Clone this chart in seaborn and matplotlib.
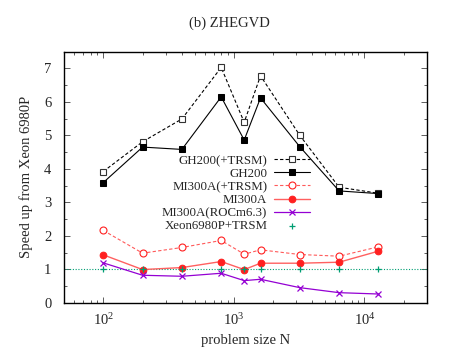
import matplotlib
matplotlib.use("Agg")
import matplotlib.pyplot as plt
import matplotlib.ticker as mticker
import pandas as pd
import seaborn as sns

# problem sizes N
sizes = [100, 200, 400, 800, 1200, 1600, 3200, 6400, 12800]

# speed-up relative to Xeon 6980P
gh200_trsm = [3.92, 4.81, 5.49, 7.03, 5.39, 6.78, 5.00, 3.45, 3.27]
gh200 = [3.59, 4.65, 4.58, 6.15, 4.86, 6.12, 4.66, 3.34, 3.26]
mi300a_trsm = [2.16, 1.48, 1.65, 1.86, 1.45, 1.58, 1.44, 1.39, 1.67]
mi300a = [1.43, 0.99, 1.05, 1.23, 0.99, 1.18, 1.18, 1.21, 1.54]
mi300a_rocm63 = [1.19, 0.82, 0.79, 0.88, 0.66, 0.70, 0.45, 0.30, 0.26]
xeon_trsm = [1.0, 1.0, 1.0, 1.0, 1.0, 1.0, 1.0, 1.0, 1.0]

series_labels = [
    "GH200(+TRSM)",
    "GH200",
    "MI300A(+TRSM)",
    "MI300A",
    "MI300A(ROCm6.3)",
    "Xeon6980P+TRSM",
]


def main() -> None:
    sns.set_style("ticks")
    plt.rcParams["font.family"] = ["Liberation Serif", "DejaVu Serif"]
    plt.rcParams["mathtext.fontset"] = "custom"
    plt.rcParams["mathtext.rm"] = "Liberation Serif"
    plt.rcParams["mathtext.it"] = "Liberation Serif:italic"
    plt.rcParams["font.size"] = 9.5

    df = pd.DataFrame(
        {
            "N": sizes,
            "gh200_trsm": gh200_trsm,
            "gh200": gh200,
            "mi300a_trsm": mi300a_trsm,
            "mi300a": mi300a,
            "mi300a_rocm63": mi300a_rocm63,
            "xeon_trsm": xeon_trsm,
        }
    )

    fig = plt.figure(figsize=(4.58, 3.59), dpi=100)
    ax = fig.add_axes([0.1397, 0.1568, 0.792, 0.6992])

    red = "#ff2020"
    purple = "#9400d3"
    green = "#009e73"

    ax.axhline(1, color=green, linestyle=(0, (1, 1.5)), linewidth=0.8, zorder=1)

    sns.lineplot(data=df, x="N", y="gh200_trsm", ax=ax, color="black",
                 linestyle=(0, (3, 2)), linewidth=0.8, marker="s", markersize=5,
                 markerfacecolor="white", markeredgecolor="#333333",
                 markeredgewidth=0.8, label=series_labels[0])
    sns.lineplot(data=df, x="N", y="gh200", ax=ax, color="black",
                 linewidth=0.8, marker="s", markersize=5,
                 markeredgecolor="black", label=series_labels[1])
    sns.lineplot(data=df, x="N", y="mi300a_trsm", ax=ax, color="#ff5a5a",
                 linestyle=(0, (3, 2)), linewidth=0.8, marker="o", markersize=5,
                 markerfacecolor="white", markeredgecolor=red,
                 markeredgewidth=0.8, label=series_labels[2])
    sns.lineplot(data=df, x="N", y="mi300a", ax=ax, color="#ff6060",
                 linewidth=1.0, marker="o", markersize=4.8,
                 markerfacecolor=red, markeredgecolor=red,
                 label=series_labels[3])
    sns.lineplot(data=df, x="N", y="mi300a_rocm63", ax=ax, color=purple,
                 linewidth=0.9, marker="x", markersize=4.5,
                 markeredgecolor=purple, markeredgewidth=0.9,
                 label=series_labels[4])
    sns.scatterplot(data=df, x="N", y="xeon_trsm", ax=ax, color=green,
                    marker="+", s=22, linewidth=0.9, label=series_labels[5],
                    zorder=3)

    ax.set_xscale("log")
    ax.set_xlim(50, 30000)
    ax.set_ylim(0, 7.5)
    ax.xaxis.set_major_locator(mticker.LogLocator(base=10))
    ax.xaxis.set_minor_locator(mticker.LogLocator(base=10, subs=range(2, 10)))
    ax.xaxis.set_minor_formatter(mticker.NullFormatter())
    ax.yaxis.set_major_locator(mticker.MultipleLocator(1))
    ax.yaxis.set_minor_locator(mticker.MultipleLocator(0.5))

    ax.tick_params(which="both", direction="in", top=True, right=True,
                   width=0.6, color="#444444")
    ax.tick_params(which="major", length=4, labelsize=10.5)
    ax.tick_params(axis="x", which="major", pad=7)
    ax.tick_params(axis="y", which="major", pad=9)
    ax.tick_params(which="minor", length=2.2)
    for spine in ax.spines.values():
        spine.set_linewidth(1.0)
        spine.set_color("black")

    ax.set_xlabel("problem size N", fontsize=10.5, labelpad=4)
    ax.set_ylabel("Speed up from Xeon 6980P", fontsize=10.5, labelpad=8)
    fig.suptitle("(b) ZHEGVD", x=0.5, y=0.955, fontsize=10.5)

    handles, labels = ax.get_legend_handles_labels()
    ax.legend(handles, labels, loc="center", bbox_to_anchor=(0.474, 0.435),
              frameon=False, markerfirst=False, fontsize=9.3,
              handlelength=2.8, handletextpad=0.5, labelspacing=0.08,
              borderpad=0.0)

    fig.savefig("out.png", dpi=100)
    plt.close(fig)


if __name__ == "__main__":
    main()
